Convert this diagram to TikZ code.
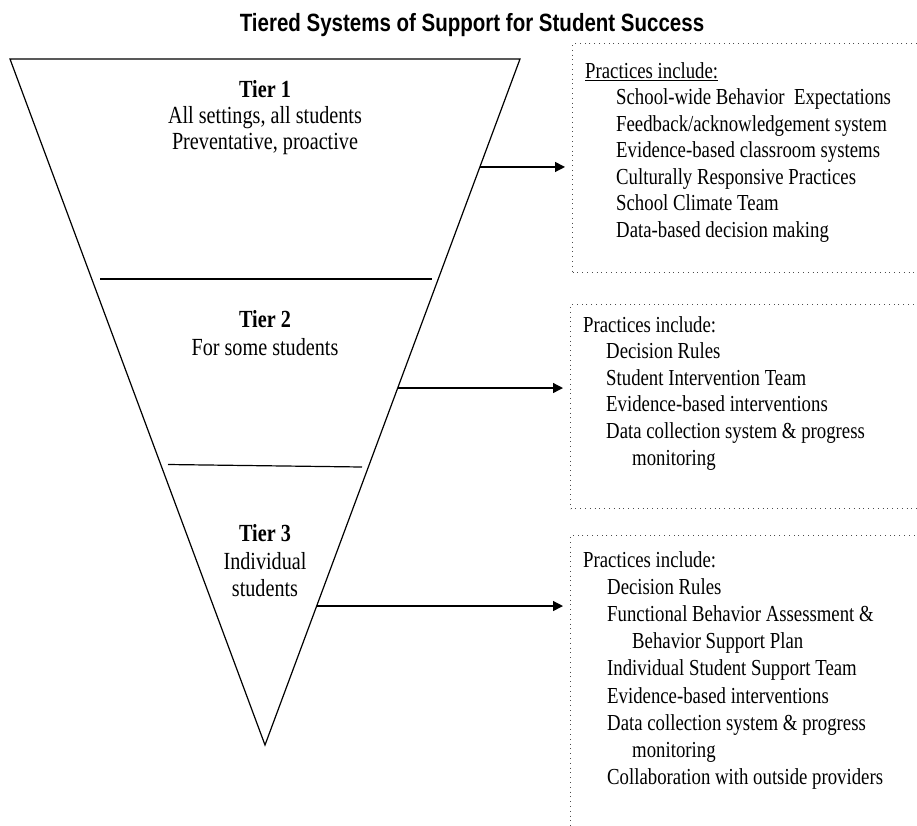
\documentclass[tikz,border=0pt]{standalone}
\usepackage{fontspec}
\setmainfont[FakeStretch=0.82]{Liberation Serif}
\newfontfamily\titlefont[FakeStretch=0.82]{Liberation Sans}
\usetikzlibrary{arrows.meta,calc}
\begin{document}
\begin{tikzpicture}[x=1pt,y=-1pt,
  txt/.style={inner sep=0pt, anchor=base west, font=\fontsize{22.9}{26}\selectfont},
  tiertxt/.style={inner sep=0pt, anchor=base, font=\fontsize{24.6}{28}\selectfont},
  dotbox/.style={draw=black!70, line width=1.2pt, dash pattern=on 1pt off 3.8pt, inner sep=0pt, anchor=north west},
  arr/.style={line width=1.3pt, -{Triangle[length=10pt,width=10pt]}, shorten >=7pt},
  edgeline/.style={line width=1.2pt, line join=miter}]
\useasboundingbox (0,0) rectangle (917,825);
\clip (0,0) rectangle (917,825);

% title
\node[inner sep=0pt, anchor=base, font=\titlefont\bfseries\fontsize{25}{28}\selectfont] (title) at (472,31.5) {Tiered Systems of Support for Student Success};

% inverted triangle
\coordinate (TL) at (10,59);
\coordinate (TR) at (520,59);
\coordinate (B) at (265,745);
\draw[edgeline] (TL) -- (TR) -- (B) -- cycle;

% separators
\coordinate (s1a) at (100,279);
\coordinate (s1b) at (432,279);
\coordinate (s2a) at (168,464.5);
\coordinate (s2b) at (362,467);
\draw[line width=1.2pt] (s1a) -- (s1b);
\draw[line width=1.2pt] (s2a) -- (s2b);

% tier texts
\node[tiertxt] (t1a) at (265,97.7) {\bfseries Tier 1};
\node[tiertxt] (t1b) at (265,123.5) {All settings, all students};
\node[tiertxt] (t1c) at (265,149.5) {Preventative, proactive};
\node[tiertxt] (t2a) at (265,327) {\bfseries Tier 2};
\node[tiertxt] (t2b) at (265,355) {For some students};
\node[tiertxt] (t3a) at (265,541) {\bfseries Tier 3};
\node[tiertxt] (t3b) at (265,569) {Individual};
\node[tiertxt] (t3c) at (265,596) {students};

% dotted boxes
\node[dotbox, minimum width=360pt, minimum height=229pt] (box1) at (572,43) {};
\node[dotbox, minimum width=360pt, minimum height=204pt] (box2) at (570,304) {};
\node[dotbox, minimum width=360pt, minimum height=320pt] (box3) at (570,535) {};

% box 1 text
\node[txt] (b1l0) at (585,78.3) {\underline{Practices include:}};
\node[txt] (b1l1) at (616,104.5) {School-wide Behavior~ Expectations};
\node[txt] (b1l2) at (616,131) {Feedback/acknowledgement system};
\node[txt] (b1l3) at (616,157.5) {Evidence-based classroom systems};
\node[txt] (b1l4) at (616,184) {Culturally Responsive Practices};
\node[txt] (b1l5) at (616,210.5) {School Climate Team};
\node[txt] (b1l6) at (616,237) {Data-based decision making};

% box 2 text
\node[txt] (b2l0) at (583,332) {Practices include:};
\node[txt] (b2l1) at (606,358.6) {Decision Rules};
\node[txt] (b2l2) at (606,385.2) {Student Intervention Team};
\node[txt] (b2l3) at (606,411.8) {Evidence-based interventions};
\node[txt] (b2l4) at (606,438.4) {Data collection system \& progress};
\node[txt] (b2l5) at (632,465) {monitoring};

% box 3 text
\node[txt] (b3l0) at (583,567) {Practices include:};
\node[txt] (b3l1) at (607,594.2) {Decision Rules};
\node[txt] (b3l2) at (607,621.4) {Functional Behavior Assessment \&};
\node[txt] (b3l3) at (632,648.6) {Behavior Support Plan};
\node[txt] (b3l4) at (607,675.8) {Individual Student Support Team};
\node[txt] (b3l5) at (607,703) {Evidence-based interventions};
\node[txt] (b3l6) at (607,730.2) {Data collection system \& progress};
\node[txt] (b3l7) at (632,757.4) {monitoring};
\node[txt] (b3l8) at (607,784.6) {Collaboration with outside providers};

% arrows from triangle edge to boxes
\coordinate (a1) at ($(TR)!0.1574!(B)$);
\coordinate (a2) at ($(TR)!0.4796!(B)$);
\coordinate (a3) at ($(TR)!0.7974!(B)$);
\draw[arr] (a1) -- (a1 -| box1.west);
\draw[arr] (a2) -- (a2 -| box2.west);
\draw[arr] (a3) -- (a3 -| box3.west);
\end{tikzpicture}
\end{document}
